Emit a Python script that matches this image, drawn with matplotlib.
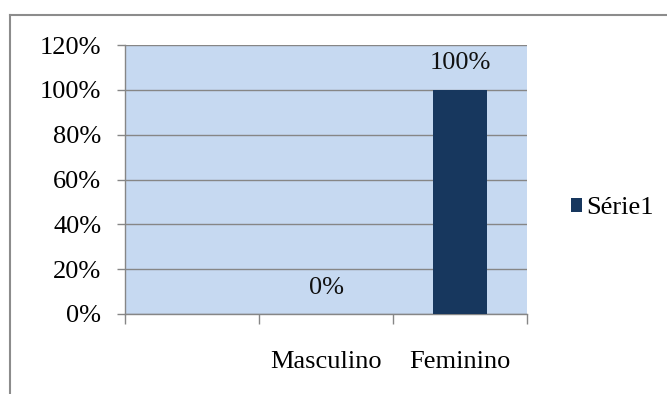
import numpy as np
import matplotlib
matplotlib.use("Agg")
import matplotlib.pyplot as plt
from matplotlib.lines import Line2D

categories = ["", "Masculino", "Feminino"]
values = [np.nan, 0.0, 1.0]
labels = ["", "0%", "100%"]
series_name = "Série1"
y_ticks = [0, 0.2, 0.4, 0.6, 0.8, 1.0, 1.2]
y_labels = ["0%", "20%", "40%", "60%", "80%", "100%", "120%"]

BG = "#C6D9F1"
BAR = "#17375E"
GRID = "#868686"

plt.rcParams["font.family"] = ["Liberation Serif", "DejaVu Serif"]
plt.rcParams["font.size"] = 19

fig = plt.figure(figsize=(6.67, 3.94), dpi=100)
ax = fig.add_axes([125 / 667, 80 / 394, 402 / 667, 269 / 394])
ax.set_facecolor(BG)

x = np.arange(len(categories))
bars = ax.bar(x, values, width=0.4, color=BAR, label=series_name, zorder=3)

for xi, v, lab in zip(x, values, labels):
    if lab:
        ax.annotate(lab, (xi, v), xytext=(0, 19), textcoords="offset points",
                    ha="center", va="center", fontsize=19, color="#111111")

ax.set_xlim(-0.5, len(categories) - 0.5)
ax.set_ylim(0, 1.2)
ax.set_yticks(y_ticks)
ax.set_yticklabels(y_labels)
ax.yaxis.grid(True, color=GRID, linewidth=1.0, zorder=1)
ax.set_axisbelow(True)

# category boundaries get tick marks, labels sit in between
ax.set_xticks(np.arange(len(categories) + 1) - 0.5)
ax.set_xticklabels([])
ax.set_xticks(x, minor=True)
ax.set_xticklabels(categories, minor=True)
ax.tick_params(axis="x", which="major", length=7, width=1, color=GRID, direction="out")
ax.tick_params(axis="x", which="minor", length=0, pad=27)
ax.tick_params(axis="y", length=6, width=1, color=GRID, direction="out", pad=11)

for s in ["top", "right"]:
    ax.spines[s].set_visible(False)
for s in ["left", "bottom"]:
    ax.spines[s].set_color(GRID)
    ax.spines[s].set_linewidth(1.0)

ax.legend(loc="center left", bbox_to_anchor=(560 / 667, 1 - 208 / 394),
          bbox_transform=fig.transFigure, frameon=False,
          handlelength=0.45, handleheight=0.45, handletextpad=0.15,
          borderaxespad=0, fontsize=19)

# outer chart border (only top and left visible)
fig.add_artist(Line2D([10 / 667, 1.0], [1 - 15 / 394, 1 - 15 / 394],
                      transform=fig.transFigure, color="#8c8c8c", linewidth=1.5))
fig.add_artist(Line2D([10 / 667, 10 / 667], [0, 1 - 15 / 394],
                      transform=fig.transFigure, color="#8c8c8c", linewidth=1.5))

fig.savefig("out.png", dpi=100)
